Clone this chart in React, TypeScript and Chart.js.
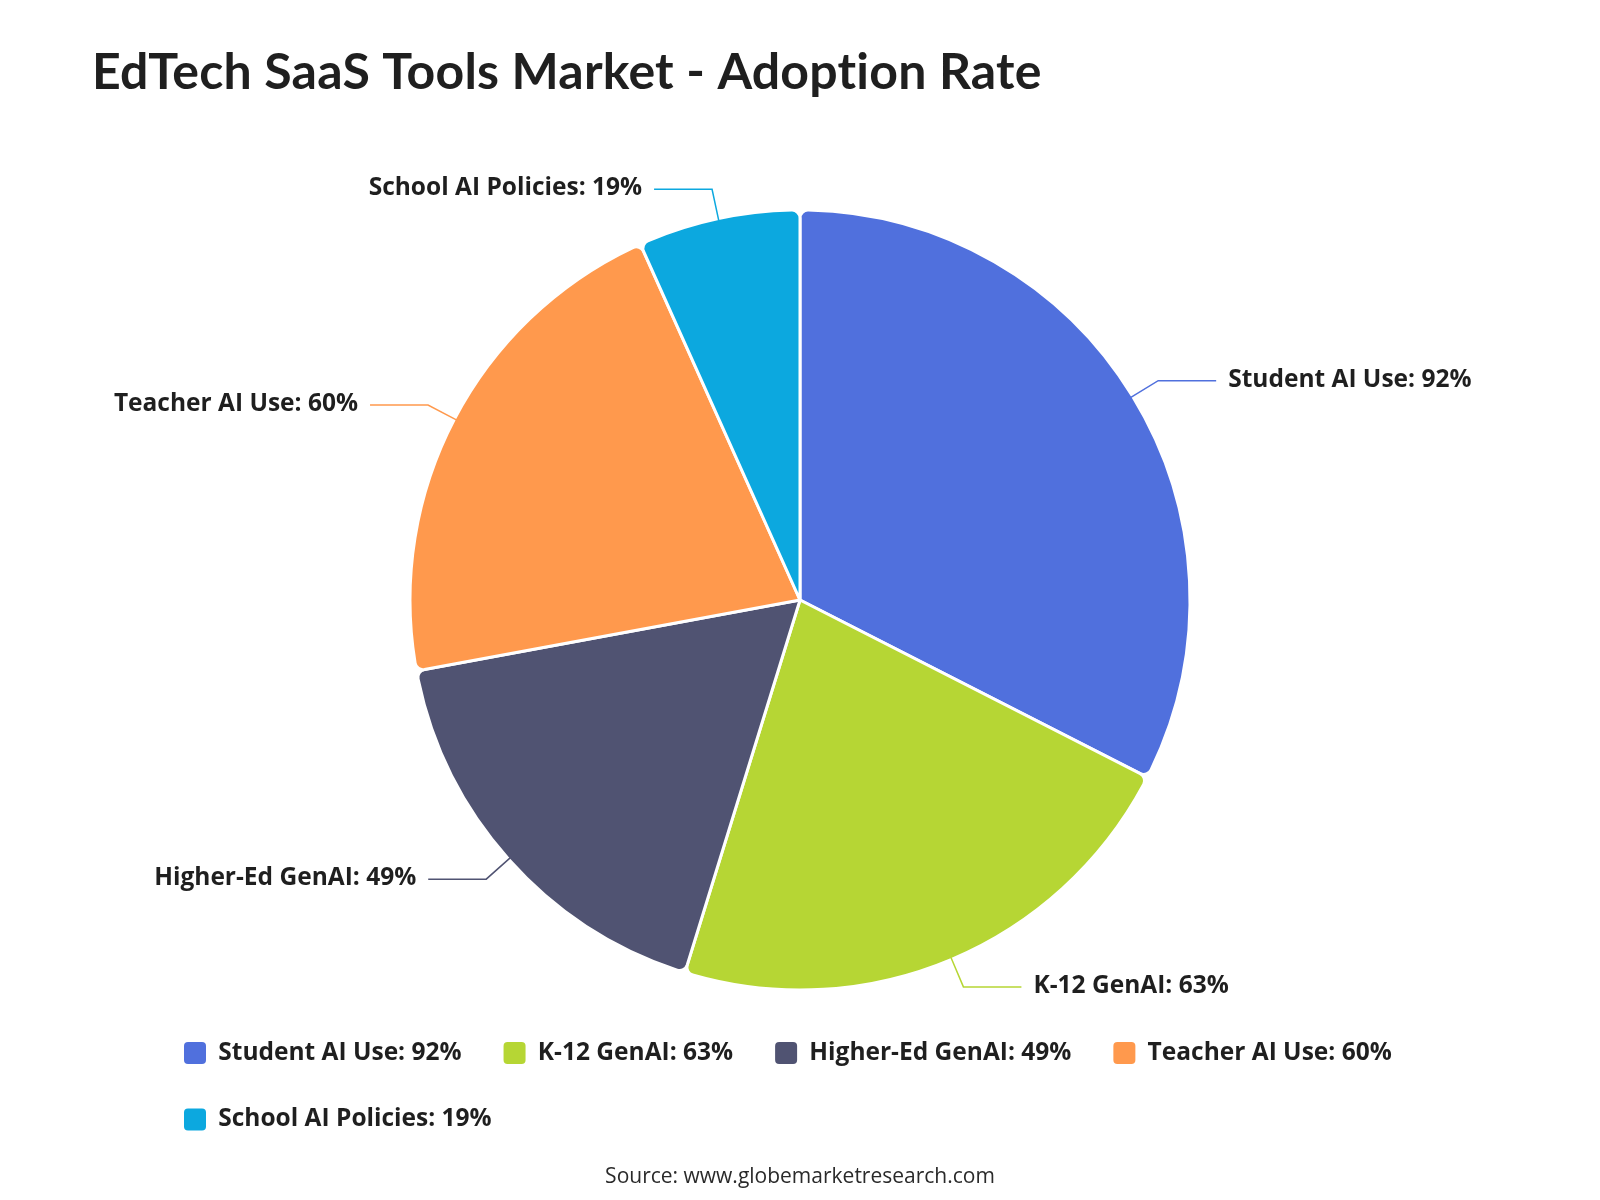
import React, { useEffect, useRef } from 'react';
import { Chart, registerables } from 'chart.js';

Chart.register(...registerables);

const TITLE = 'EdTech SaaS Tools Market - Adoption Rate';
const SOURCE = 'Source: www.globemarketresearch.com';
const categories = ['Student AI Use', 'K-12 GenAI', 'Higher-Ed GenAI', 'Teacher AI Use', 'School AI Policies'];
const values = [92, 63, 49, 60, 19];
const colors = ['#5070dd', '#b6d634', '#505372', '#ff994d', '#0ca8df'];
const labelTexts = categories.map((c, i) => `${c}: ${values[i]}%`);

const FONT = '"Open Sans", "Noto Sans", sans-serif';
const TITLE_FONT = 'Lato, "Open Sans", sans-serif';
const TEXT_COLOR = '#1f1f1f';
const LABEL_SIZE = 24.5;

const decorPlugin = {
  id: 'decor',
  afterDatasetsDraw(chart: any) {
    const ctx = chart.ctx as CanvasRenderingContext2D;
    const meta = chart.getDatasetMeta(0);
    ctx.save();
    meta.data.forEach((arc: any, i: number) => {
      const { x, y, startAngle, endAngle, outerRadius } = arc.getProps(
        ['x', 'y', 'startAngle', 'endAngle', 'outerRadius'],
        true
      );
      const mid = (startAngle + endAngle) / 2;
      const cos = Math.cos(mid);
      const sin = Math.sin(mid);
      const r0 = outerRadius - 2;
      const r1 = outerRadius + 30;
      const x0 = x + cos * r0;
      const y0 = y + sin * r0;
      const x1 = x + cos * r1;
      const y1 = y + sin * r1;
      const right = cos >= 0;
      const x2 = x1 + (right ? 58 : -58);
      ctx.strokeStyle = colors[i];
      ctx.lineWidth = 1.5;
      ctx.beginPath();
      ctx.moveTo(x0, y0);
      ctx.lineTo(x1, y1);
      ctx.lineTo(x2, y1);
      ctx.stroke();
      ctx.font = `bold ${LABEL_SIZE}px ${FONT}`;
      ctx.fillStyle = TEXT_COLOR;
      ctx.textBaseline = 'middle';
      ctx.textAlign = right ? 'left' : 'right';
      ctx.fillText(labelTexts[i], x2 + (right ? 12 : -12), y1 - 1);
    });

    ctx.font = `bold 50px ${TITLE_FONT}`;
    (ctx as any).letterSpacing = '0.2px';
    ctx.fillStyle = TEXT_COLOR;
    ctx.textAlign = 'left';
    ctx.textBaseline = 'alphabetic';
    ctx.fillText(TITLE, 92, 89);
    (ctx as any).letterSpacing = '0px';

    ctx.font = `21px ${FONT}`;
    ctx.fillStyle = '#2a2a2a';
    ctx.textAlign = 'center';
    ctx.textBaseline = 'middle';
    ctx.fillText(SOURCE, 800, 1177);
    ctx.restore();
  },
};

export default function App() {
  const ref = useRef<HTMLCanvasElement | null>(null);
  useEffect(() => {
    if (!ref.current) return;
    const chart = new Chart(ref.current, {
      type: 'pie',
      data: {
        labels: labelTexts,
        datasets: [
          {
            data: values,
            backgroundColor: colors,
            borderColor: '#ffffff',
            borderWidth: 3,
            borderRadius: 8,
            radius: 390,
          } as any,
        ],
      },
      options: {
        responsive: false,
        animation: false,
        layout: { padding: { left: 142, right: 142, top: 201.25, bottom: 58.25 } },
        plugins: {
          title: { display: false },
          tooltip: { enabled: false },
          legend: {
            position: 'bottom',
            align: 'start',
            labels: {
              font: { family: FONT, size: 24.5, weight: 'bold' },
              color: TEXT_COLOR,
              boxWidth: 22,
              boxHeight: 22,
              padding: 42,
              useBorderRadius: true,
              borderRadius: 4,
              generateLabels: (c: any) =>
                c.data.labels.map((t: string, i: number) => ({
                  text: t,
                  fillStyle: colors[i],
                  strokeStyle: colors[i],
                  lineWidth: 0,
                  hidden: false,
                  index: i,
                  borderRadius: 4,
                  fontColor: TEXT_COLOR,
                })),
            },
          },
        },
      } as any,
      plugins: [decorPlugin],
    });
    return () => chart.destroy();
  }, []);

  return (
    <div style={{ position: 'absolute', left: 0, top: 0, width: 1600, height: 1200, background: '#fff' }}>
      <canvas ref={ref} width={1600} height={1200} style={{ display: 'block' }} />
    </div>
  );
}
